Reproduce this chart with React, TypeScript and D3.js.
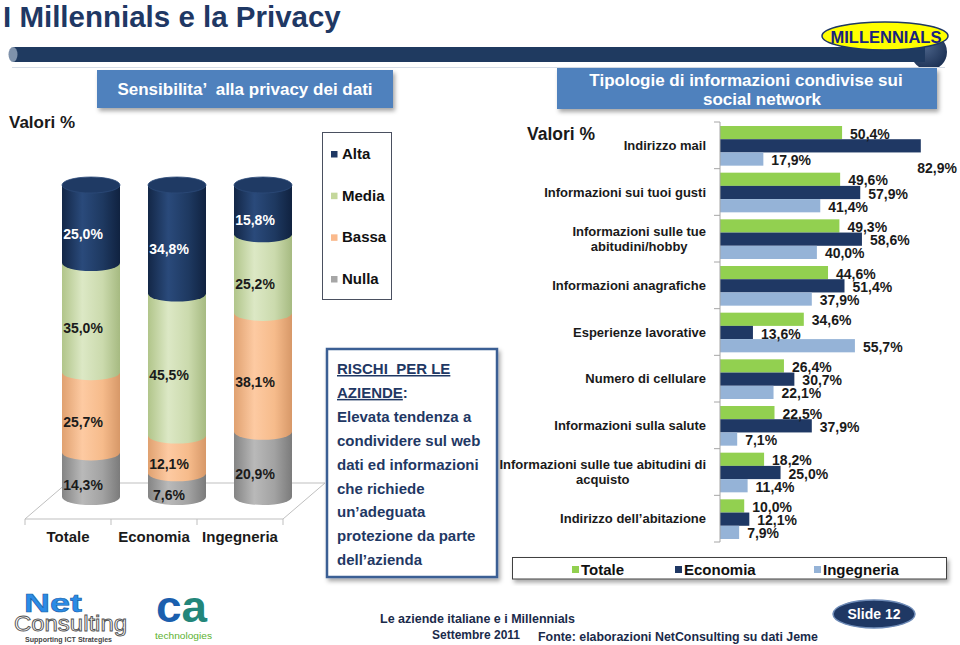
import React, { useEffect, useRef } from 'react';
import * as d3 from 'd3';

const W = 960;
const H = 645;
const FONT = "'Liberation Sans', Arial, Helvetica, sans-serif";
const NARROW = "'Liberation Sans Narrow', 'Arial Narrow', 'Liberation Sans', Arial, sans-serif";

// ---- Left chart: Sensibilità alla privacy dei dati ----
const groupNames = ['Totale', 'Economia', 'Ingegneria'];
const levelNames = ['Alta', 'Media', 'Bassa', 'Nulla'];
const altaValues = [25.0, 34.8, 15.8];
const mediaValues = [35.0, 45.5, 25.2];
const bassaValues = [25.7, 12.1, 38.1];
const nullaValues = [14.3, 7.6, 20.9];

// ---- Right chart: Tipologie di informazioni condivise sui social network ----
const infoCategories = [
  'Indirizzo mail',
  'Informazioni sui tuoi gusti',
  'Informazioni sulle tue\nabitudini/hobby',
  'Informazioni anagrafiche',
  'Esperienze lavorative',
  'Numero di cellulare',
  'Informazioni sulla salute',
  'Informazioni sulle tue abitudini di\nacquisto',
  'Indirizzo dell’abitazione',
];
const seriesNames = ['Totale', 'Economia', 'Ingegneria'];
const totaleValues = [50.4, 49.6, 49.3, 44.6, 34.6, 26.4, 22.5, 18.2, 10.0];
const economiaValues = [82.9, 57.9, 58.6, 51.4, 13.6, 30.7, 37.9, 25.0, 12.1];
const ingegneriaValues = [17.9, 41.4, 40.0, 37.9, 55.7, 22.1, 7.1, 11.4, 7.9];

const riskLines = [
  'Elevata tendenza a',
  'condividere sul web',
  'dati ed informazioni',
  'che richiede',
  'un’adeguata',
  'protezione da parte',
  'dell’azienda',
];

const levelColors: Record<string, string> = {
  Alta: '#1f3864',
  Media: '#c4d79b',
  Bassa: '#fab98c',
  Nulla: '#a6a6a6',
};
const cylStops: Record<string, string[]> = {
  Alta: ['#132747', '#2a4a7b', '#1e3961', '#102240'],
  Media: ['#b1c58a', '#dce8c5', '#cbdaad', '#a6ba81'],
  Bassa: ['#e0a170', '#fdcaa2', '#f6bb8b', '#d79868'],
  Nulla: ['#848484', '#b9b9b9', '#a2a2a2', '#7b7b7b'],
};
const seriesColors: Record<string, string> = {
  Totale: '#92d050',
  Economia: '#1f3864',
  Ingegneria: '#95b3d7',
};

const locale = d3.formatLocale({ decimal: ',', thousands: '.', grouping: [3], currency: ['', '€'] });
const fmt1 = locale.format('.1f');
const pct = (v: number) => fmt1(v) + '%';

function draw(svgEl: SVGSVGElement) {
  const svg = d3.select(svgEl);
  svg.selectAll('*').remove();
  const defs = svg.append('defs');

  const f = defs.append('filter').attr('id', 'shadow')
    .attr('x', '-10%').attr('y', '-10%').attr('width', '130%').attr('height', '140%');
  f.append('feDropShadow').attr('dx', 2).attr('dy', 3).attr('stdDeviation', 2)
    .attr('flood-color', '#000').attr('flood-opacity', 0.35);

  levelNames.forEach((k) => {
    const g = defs.append('linearGradient').attr('id', 'cyl-' + k)
      .attr('x1', 0).attr('x2', 1).attr('y1', 0).attr('y2', 0);
    [0, 0.35, 0.7, 1].forEach((o, i) => g.append('stop').attr('offset', o).attr('stop-color', cylStops[k][i]));
  });
  const rg = defs.append('radialGradient').attr('id', 'hdrEnd').attr('cx', 0.4).attr('cy', 0.35).attr('r', 0.7);
  rg.append('stop').attr('offset', 0).attr('stop-color', '#4a6288');
  rg.append('stop').attr('offset', 1).attr('stop-color', '#1a2f52');

  // ---------- Header ----------
  svg.append('text').attr('x', 3).attr('y', 27)
    .attr('font-family', FONT).attr('font-weight', 'bold').attr('font-size', 29.5)
    .attr('fill', '#1f3864').text('I Millennials e la Privacy');

  svg.append('circle').attr('cx', 929).attr('cy', 52).attr('r', 18).attr('fill', 'url(#hdrEnd)');
  svg.append('rect').attr('x', 13).attr('y', 47).attr('width', 912).attr('height', 15).attr('fill', '#1f3a60');
  svg.append('ellipse').attr('cx', 13).attr('cy', 54.5).attr('rx', 4.5).attr('ry', 7.5).attr('fill', '#7f92ab');
  svg.append('line').attr('x1', 12).attr('x2', 945).attr('y1', 67.5).attr('y2', 67.5)
    .attr('stroke', '#d5dce6').attr('stroke-width', 1);

  svg.append('ellipse').attr('cx', 885).attr('cy', 36).attr('rx', 63).attr('ry', 14)
    .attr('fill', '#ffff00').attr('stroke', '#1f3864').attr('stroke-width', 1.5);
  svg.append('text').attr('x', 886).attr('y', 42.5).attr('text-anchor', 'middle')
    .attr('font-family', FONT).attr('font-weight', 'bold').attr('font-size', 16.5)
    .attr('fill', '#1a237e').text('MILLENNIALS');

  // ---------- Title boxes ----------
  svg.append('rect').attr('x', 97).attr('y', 70).attr('width', 296).attr('height', 38)
    .attr('fill', '#4f81bd').attr('filter', 'url(#shadow)');
  svg.append('text').attr('x', 245).attr('y', 95).attr('text-anchor', 'middle')
    .attr('font-family', FONT).attr('font-weight', 'bold').attr('font-size', 17)
    .attr('fill', '#fff').style('white-space', 'pre').text('Sensibilita’  alla privacy dei dati');

  svg.append('rect').attr('x', 557).attr('y', 68).attr('width', 380).attr('height', 41)
    .attr('fill', '#4f81bd').attr('filter', 'url(#shadow)');
  svg.append('text').attr('x', 746).attr('y', 86).attr('text-anchor', 'middle')
    .attr('font-family', FONT).attr('font-weight', 'bold').attr('font-size', 17)
    .attr('fill', '#fff').text('Tipologie di informazioni condivise sui');
  svg.append('text').attr('x', 762).attr('y', 105).attr('text-anchor', 'middle')
    .attr('font-family', FONT).attr('font-weight', 'bold').attr('font-size', 17)
    .attr('fill', '#fff').text('social network');

  svg.append('text').attr('x', 9).attr('y', 128)
    .attr('font-family', FONT).attr('font-weight', 'bold').attr('font-size', 17)
    .attr('fill', '#1a1a1a').text('Valori %');
  svg.append('text').attr('x', 527).attr('y', 140)
    .attr('font-family', FONT).attr('font-weight', 'bold').attr('font-size', 17.5)
    .attr('fill', '#1a1a1a').text('Valori %');

  // ---------- Left chart: 3D stacked cylinders ----------
  const xL = d3.scaleBand().domain(groupNames).range([48, 306]);
  const xFloor = d3.scaleBand().domain(groupNames).range([25, 283]);
  const yL = d3.scaleLinear().domain([0, 100]).range([497, 185]);
  const rx = 29;
  const ry = 8;
  const floorY = 519;
  const depthX = 42;
  const depthY = 36;

  const [fx0, fx1] = xFloor.range();
  svg.append('path')
    .attr('d', `M${fx0},${floorY} L${fx1},${floorY} L${fx1 + depthX},${floorY - depthY} L${fx0 + depthX},${floorY - depthY} Z`)
    .attr('fill', 'none').attr('stroke', '#bfbfbf').attr('stroke-width', 1);
  const tickXs = [fx0, ...groupNames.map((g) => (xFloor(g) as number) + xFloor.bandwidth())];
  svg.selectAll('.ftick').data(tickXs).enter().append('line')
    .attr('x1', (d) => d).attr('x2', (d) => d).attr('y1', floorY).attr('y2', floorY + 6)
    .attr('stroke', '#bfbfbf');

  svg.selectAll('.gname').data(groupNames).enter().append('text')
    .attr('x', (d) => (xFloor(d) as number) + xFloor.bandwidth() / 2)
    .attr('y', 542).attr('text-anchor', 'middle')
    .attr('font-family', FONT).attr('font-weight', 'bold').attr('font-size', 15)
    .attr('fill', '#1a1a1a').text((d) => d);

  const rows = groupNames.map((g, i) => ({
    group: g, Alta: altaValues[i], Media: mediaValues[i], Bassa: bassaValues[i], Nulla: nullaValues[i],
  }));
  const stacked = d3.stack<any>().keys(['Nulla', 'Bassa', 'Media', 'Alta'])(rows);
  const cyl = svg.append('g');
  stacked.forEach((s) => {
    s.forEach((d, i) => {
      const cx = (xL(groupNames[i]) as number) + xL.bandwidth() / 2;
      const yt = yL(d[1]);
      const yb = yL(d[0]);
      cyl.append('path')
        .attr('d', `M${cx - rx},${yt} L${cx - rx},${yb} A${rx},${ry} 0 0 0 ${cx + rx},${yb} L${cx + rx},${yt} Z`)
        .attr('fill', `url(#cyl-${s.key})`);
    });
  });
  groupNames.forEach((g) => {
    const cx = (xL(g) as number) + xL.bandwidth() / 2;
    cyl.append('ellipse').attr('cx', cx).attr('cy', yL(100)).attr('rx', rx).attr('ry', ry)
      .attr('fill', '#1f3a64').attr('stroke', '#2c4a78').attr('stroke-width', 0.8);
  });
  stacked.forEach((s) => {
    s.forEach((d, i) => {
      const cx = (xL(groupNames[i]) as number) + xL.bandwidth() / 2;
      const mid = (yL(d[0]) + yL(d[1])) / 2;
      cyl.append('text').attr('x', cx - 8).attr('y', mid + 10)
        .attr('text-anchor', 'middle').attr('dominant-baseline', 'central')
        .attr('font-family', FONT).attr('font-weight', 'bold').attr('font-size', 14)
        .attr('fill', s.key === 'Alta' ? '#ffffff' : '#1a1a1a')
        .text(pct(d[1] - d[0]));
    });
  });

  // Left legend
  svg.append('rect').attr('x', 322.5).attr('y', 132.5).attr('width', 69).attr('height', 167)
    .attr('fill', '#fff').attr('stroke', '#4a5060').attr('stroke-width', 1);
  const legY = d3.scalePoint().domain(levelNames).range([159, 284]);
  levelNames.forEach((k) => {
    const by = legY(k) as number;
    svg.append('rect').attr('x', 331).attr('y', by - 8).attr('width', 6.5).attr('height', 6.5).attr('fill', levelColors[k]);
    svg.append('text').attr('x', 342).attr('y', by)
      .attr('font-family', FONT).attr('font-weight', 'bold').attr('font-size', 15)
      .attr('fill', '#111').text(k);
  });

  // Risk box
  svg.append('rect').attr('x', 327).attr('y', 349).attr('width', 170).attr('height', 228)
    .attr('fill', '#fff').attr('stroke', '#3b5f94').attr('stroke-width', 2.5).attr('filter', 'url(#shadow)');
  const riskColor = '#1f3864';
  const rt = svg.append('g').attr('font-family', FONT).attr('font-weight', 'bold')
    .attr('font-size', 15).attr('fill', riskColor);
  rt.append('text').attr('x', 337).attr('y', 374).style('white-space', 'pre')
    .attr('text-decoration', 'underline').text('RISCHI  PER LE');
  const az = rt.append('text').attr('x', 337).attr('y', 397.9);
  az.append('tspan').attr('text-decoration', 'underline').text('AZIENDE');
  az.append('tspan').text(':');
  riskLines.forEach((l, i) => {
    rt.append('text').attr('x', 337).attr('y', 421.8 + i * 23.9).text(l);
  });

  // ---------- Right chart: grouped horizontal bars ----------
  const yR = d3.scaleBand().domain(infoCategories).range([122, 542]);
  const ySub = d3.scaleBand().domain(seriesNames).range([4, yR.bandwidth() - 3]);
  const xR = d3.scaleLinear().domain([0, 90]).range([720, 938]);
  const seriesValues = [totaleValues, economiaValues, ingegneriaValues];

  const bars = svg.append('g');
  seriesNames.forEach((s, si) => {
    bars.selectAll('.b' + si).data(seriesValues[si]).enter().append('rect')
      .attr('x', xR(0))
      .attr('y', (_d, ci) => (yR(infoCategories[ci]) as number) + (ySub(s) as number))
      .attr('width', (d) => xR(d) - xR(0))
      .attr('height', ySub.bandwidth())
      .attr('fill', seriesColors[s]);
  });

  // axis
  svg.append('line').attr('x1', 720).attr('x2', 720).attr('y1', yR.range()[0]).attr('y2', yR.range()[1])
    .attr('stroke', '#a6a6a6');
  const bounds = [yR.range()[0], ...infoCategories.map((c) => (yR(c) as number) + yR.bandwidth())];
  svg.selectAll('.rtick').data(bounds).enter().append('line')
    .attr('x1', 714).attr('x2', 720).attr('y1', (d) => d).attr('y2', (d) => d).attr('stroke', '#a6a6a6');

  // category labels
  infoCategories.forEach((c) => {
    const lines = c.split('\n');
    const cy = (yR(c) as number) + yR.bandwidth() / 2;
    const t = svg.append('text').attr('font-family', FONT).attr('font-weight', 'bold')
      .attr('font-size', 13).attr('fill', '#1a1a1a');
    const spans = lines.map((l, j) =>
      t.append('tspan').attr('x', 706).attr('y', cy + 4.5 + (j - (lines.length - 1) / 2) * 15).text(l));
    if (lines.length === 1) {
      t.attr('text-anchor', 'end');
    } else {
      const maxW = d3.max(spans, (sp) => (sp.node() as SVGTSpanElement).getComputedTextLength()) || 0;
      t.attr('text-anchor', 'middle');
      spans.forEach((sp) => sp.attr('x', 706 - maxW / 2));
    }
  });

  // value labels
  seriesNames.forEach((s, si) => {
    seriesValues[si].forEach((v, ci) => {
      const by = (yR(infoCategories[ci]) as number) + (ySub(s) as number) + ySub.bandwidth() / 2 + 1;
      const t = svg.append('text').attr('x', xR(v) + 8).attr('y', by)
        .attr('dominant-baseline', 'central')
        .attr('font-family', FONT).attr('font-weight', 'bold').attr('font-size', 14)
        .attr('fill', '#1a1a1a').text(pct(v));
      const w = (t.node() as SVGTextElement).getComputedTextLength();
      if (xR(v) + 8 + w > 955) {
        t.attr('x', 957).attr('text-anchor', 'end').attr('y', by + 21);
      }
    });
  });

  // right legend
  svg.append('rect').attr('x', 512.5).attr('y', 557.5).attr('width', 434).attr('height', 21.5)
    .attr('fill', '#fff').attr('stroke', '#404040').attr('stroke-width', 1).attr('filter', 'url(#shadow)');
  const legX = [572, 675, 814];
  seriesNames.forEach((s, i) => {
    svg.append('rect').attr('x', legX[i]).attr('y', 566).attr('width', 7).attr('height', 7).attr('fill', seriesColors[s]);
    svg.append('text').attr('x', legX[i] + 9).attr('y', 574.5)
      .attr('font-family', FONT).attr('font-weight', 'bold').attr('font-size', 15)
      .attr('fill', '#111').text(s);
  });

  // ---------- Footer ----------
  // NetConsulting logo
  svg.append('text').attr('x', 24).attr('y', 612).attr('font-family', FONT).attr('font-weight', 'bold')
    .attr('font-size', 26).attr('fill', '#2b8ce6').attr('stroke', '#1c5fa8').attr('stroke-width', 0.6)
    .attr('textLength', 58).attr('lengthAdjust', 'spacingAndGlyphs').text('Net');
  svg.append('text').attr('x', 14).attr('y', 631).attr('font-family', FONT)
    .attr('font-size', 22).attr('fill', '#ffffff').attr('stroke', '#555').attr('stroke-width', 0.9)
    .attr('textLength', 113).attr('lengthAdjust', 'spacingAndGlyphs').text('Consulting');
  svg.append('text').attr('x', 25).attr('y', 642).attr('font-family', NARROW).attr('font-weight', 'bold')
    .attr('font-size', 8).attr('fill', '#444')
    .attr('textLength', 87).attr('lengthAdjust', 'spacingAndGlyphs').text('Supporting ICT Strategies');
  // CA logo
  const ca = svg.append('text').attr('x', 156).attr('y', 622).attr('font-family', FONT).attr('font-weight', 'bold')
    .attr('font-size', 44).attr('textLength', 51).attr('lengthAdjust', 'spacingAndGlyphs');
  ca.append('tspan').attr('fill', '#1b5fae').text('c');
  ca.append('tspan').attr('fill', '#23867a').text('a');
  svg.append('text').attr('x', 155).attr('y', 639).attr('font-family', FONT)
    .attr('font-size', 9.5).attr('fill', '#5cb230')
    .attr('textLength', 57).attr('lengthAdjust', 'spacingAndGlyphs').text('technologies');

  const foot = svg.append('g').attr('font-family', NARROW).attr('font-weight', 'bold')
    .attr('font-size', 13).attr('fill', '#1a2a4a');
  foot.append('text').attr('x', 380).attr('y', 623).attr('textLength', 195)
    .attr('lengthAdjust', 'spacingAndGlyphs').text('Le aziende italiane e i Millennials');
  foot.append('text').attr('x', 432).attr('y', 639).attr('textLength', 88)
    .attr('lengthAdjust', 'spacingAndGlyphs').text('Settembre 2011');
  foot.append('text').attr('x', 538).attr('y', 641).attr('textLength', 280)
    .attr('lengthAdjust', 'spacingAndGlyphs').text('Fonte: elaborazioni NetConsulting su dati Jeme');

  svg.append('ellipse').attr('cx', 874).attr('cy', 614).attr('rx', 41).attr('ry', 14)
    .attr('fill', '#1f3864').attr('stroke', '#6f8cb8').attr('stroke-width', 1.5);
  svg.append('text').attr('x', 874).attr('y', 619).attr('text-anchor', 'middle')
    .attr('font-family', FONT).attr('font-weight', 'bold').attr('font-size', 14)
    .attr('fill', '#fff').text('Slide 12');
}

export default function App() {
  const ref = useRef<SVGSVGElement>(null);
  useEffect(() => {
    if (ref.current) draw(ref.current);
  }, []);
  return (
    <svg
      ref={ref}
      width={W}
      height={H}
      style={{ position: 'absolute', left: 0, top: 0, background: '#ffffff' }}
    />
  );
}
